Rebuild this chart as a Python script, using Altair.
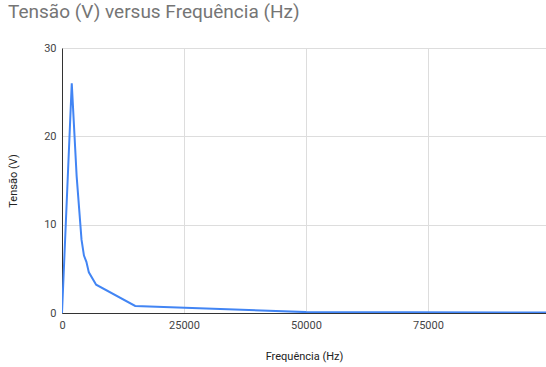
import altair as alt
import pandas as pd

freq = [0, 2000, 3000, 4000, 4500, 5000, 5500, 7000, 15000, 50000, 100000]
volt = [0, 26, 15.5, 8.3, 6.5, 5.8, 4.6, 3.2, 0.8, 0.1, 0.05]

df = pd.DataFrame({"Frequência (Hz)": freq, "Tensão (V)": volt})

chart = alt.Chart(df).mark_line(color="#4285F4", strokeWidth=2, clip=True).encode(
    x=alt.X("Frequência (Hz):Q",
            scale=alt.Scale(domain=[0, 99200], nice=False, zero=True),
            axis=alt.Axis(values=[0, 25000, 50000, 75000], format="d",
                          title="Frequência (Hz)", titleY=37, labelFlush=False)),
    y=alt.Y("Tensão (V):Q",
            scale=alt.Scale(domain=[0, 30], nice=False),
            axis=alt.Axis(values=[0, 10, 20, 30], title="Tensão (V)",
                          titleX=-44, titleY=132.5, titleAngle=270,
                          labelFlush=False)),
).properties(
    width=484, height=265,
    padding={"left": 62, "top": 48, "right": 0, "bottom": 54},
    autosize=alt.AutoSizeParams(type="none"),
    title=alt.TitleParams("Tensão (V) versus Frequência (Hz)", anchor="start",
                          frame="group", dx=-54, offset=20, fontSize=19,
                          fontWeight="normal", color="#757575", font="Roboto"),
).configure_view(stroke=None).configure_axis(
    labelFont="Roboto", titleFont="Roboto", labelColor="#444444",
    titleColor="#222222", labelFontSize=11, titleFontSize=11,
    titleFontWeight="normal", ticks=False, domain=False,
    gridColor="#dddddd", labelPadding=6,
).configure_axisX(
    domain=True, domainColor="#333333"
).configure_axisY(
    domain=True, domainColor="#333333"
)

chart.save("out.html", embed_options={"renderer": "svg", "actions": False})
